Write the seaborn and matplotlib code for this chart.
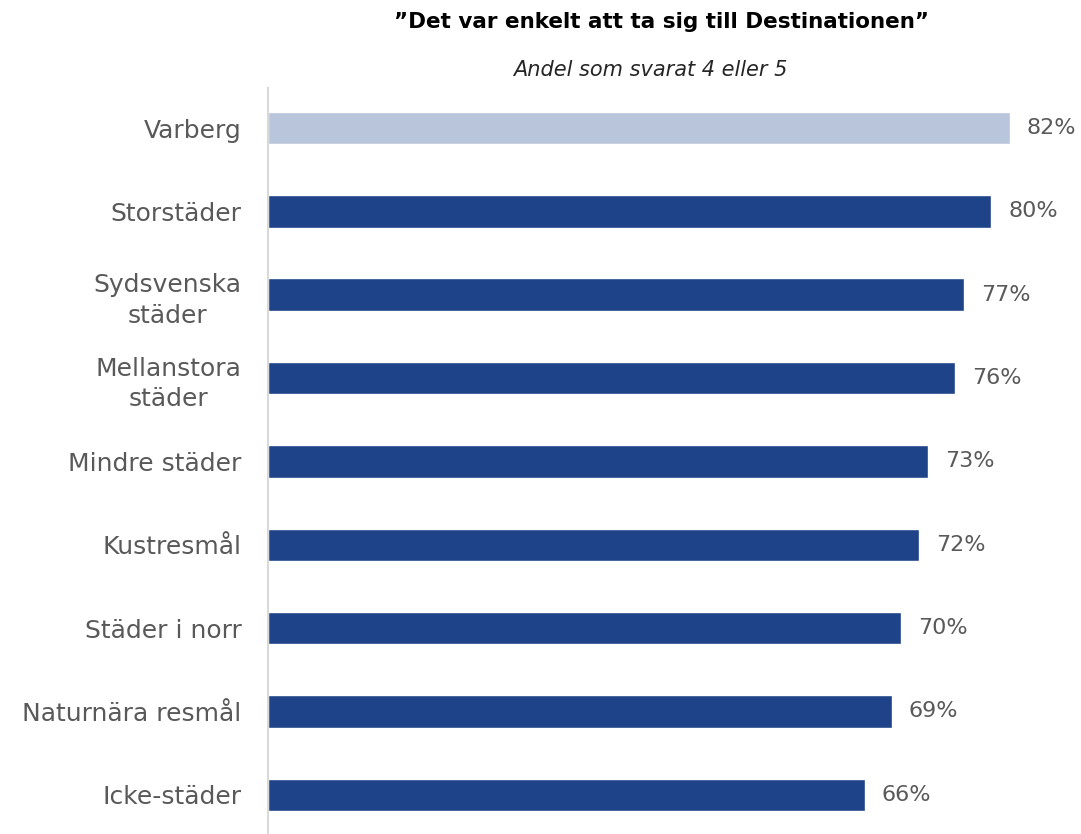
import pandas as pd
import matplotlib.pyplot as plt
import seaborn as sns

# Chart data
categories = ['Varberg', 'Storstäder', 'Sydsvenska\nstäder', 'Mellanstora\nstäder',
              'Mindre städer', 'Kustresmål', 'Städer i norr', 'Naturnära resmål', 'Icke-städer']
values = [82, 80, 77, 76, 73, 72, 70, 69, 66]
bar_colors = ['#B9C5DA'] + ['#1F4388'] * 8

df = pd.DataFrame({'Kategori': categories, 'Andel': values})

sns.set_theme(style='white')
plt.rcParams['font.family'] = ['DejaVu Sans']

fig = plt.figure(figsize=(10.81, 8.34), dpi=100)
ax = fig.add_axes([268 / 1081, 0, 1 - 268 / 1081, 1 - 88 / 834])

sns.barplot(data=df, x='Andel', y='Kategori', hue='Kategori', palette=bar_colors,
            saturation=1, legend=False, width=0.39, orient='h', ax=ax)

for c in ax.containers:
    ax.bar_label(c, labels=[f'{v:.0f}%' for v in c.datavalues], padding=12,
                 fontsize=16, color='#595959', clip_on=False)

ax.set_xlim(0, 89.9)
ax.set_ylim(8.47, -0.48)
ax.set_xlabel('')
ax.set_ylabel('')
ax.set_xticks([])
ax.tick_params(axis='y', length=0, pad=19, labelsize=18, labelcolor='#595959')
for lbl in ax.get_yticklabels():
    lbl.set_multialignment('center')
    lbl.set_linespacing(1.35)

for side in ['top', 'right', 'bottom']:
    ax.spines[side].set_visible(False)
ax.spines['left'].set_color('#D9D9D9')
ax.spines['left'].set_linewidth(1.5)

fig.text(662 / 1081, 1 - 22 / 834, '\u201dDet var enkelt att ta sig till Destinationen\u201d',
         ha='center', va='center', fontsize=15.5, fontweight='bold', color='black')
fig.text(650 / 1081, 1 - 70 / 834, 'Andel som svarat 4 eller 5',
         ha='center', va='center', fontsize=15, style='italic', color='#262626')

fig.savefig('out.png', dpi=100)
